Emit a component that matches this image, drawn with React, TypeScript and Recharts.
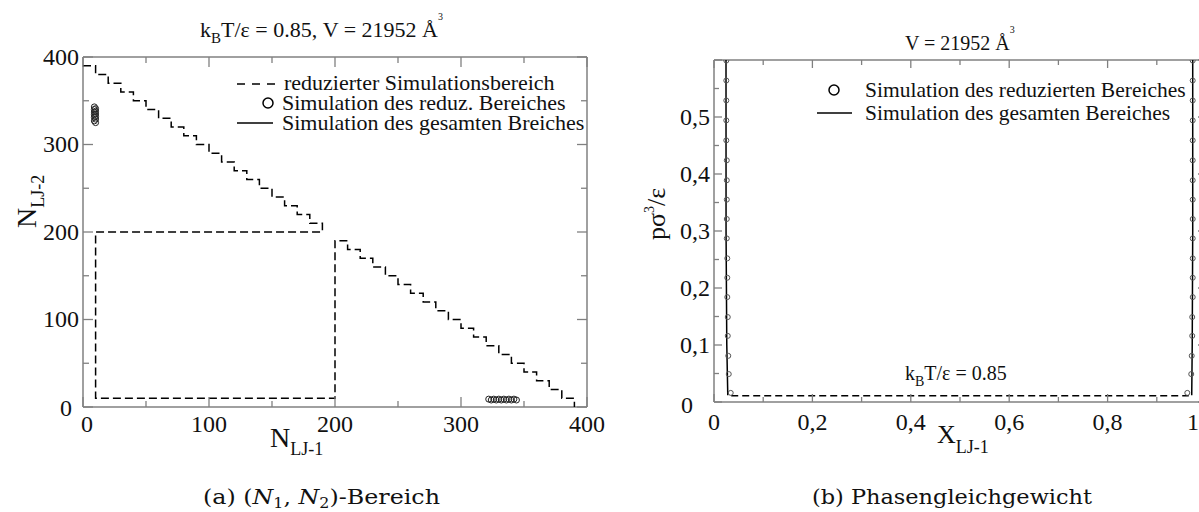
import React from 'react';
import { ComposedChart, Scatter, XAxis, YAxis } from 'recharts';

const SERIF = '"Liberation Serif", "Times New Roman", serif';
const CAPTION = '"DejaVu Serif", serif';
const FRAME = '#808080';

// (a) simulated (N1, N2) range, dashed outline
const upperEdgesN1 = [0, 10, 20, 30, 40, 50, 60, 70, 80, 90, 100, 110, 120, 130, 140, 150, 160, 170, 180, 190];
const upperLevelsN2 = [390, 380, 370, 360, 350, 340, 330, 320, 310, 300, 290, 280, 270, 260, 250, 240, 230, 220, 210];
const boxCornersN1 = [190, 10, 10, 200];
const boxCornersN2 = [200, 200, 10, 10];
const lowerEdgesN1 = [200, 210, 220, 230, 240, 250, 260, 270, 280, 290, 300, 310, 320, 330, 340, 350, 360, 370, 380, 390];
const lowerLevelsN2 = [190, 180, 170, 160, 150, 140, 130, 120, 110, 100, 90, 80, 70, 60, 50, 40, 30, 20, 10];
const rangeEndN1 = [390];
const rangeEndN2 = [0];

// (a) peaks of the reduced simulation
const peakAN1 = [9, 10, 9, 10, 9, 10, 9, 10, 9, 10, 9, 10];
const peakAN2 = [343, 341, 340, 338, 337, 335, 334, 332, 331, 329, 327, 325];
const peakBN1 = [322, 324, 326, 328, 330, 332, 334, 336, 338, 340, 342, 344];
const peakBN2 = [9, 8, 9, 8, 9, 8, 9, 8, 9, 8, 9, 8];

const ticksN = [0, 50, 100, 150, 200, 250, 300, 350, 400];
const majorN = [0, 100, 200, 300, 400];

// (b) phase equilibrium
const pressure = [0.599, 0.564, 0.529, 0.494, 0.459, 0.424, 0.389, 0.355, 0.321, 0.287, 0.252, 0.218, 0.184, 0.149, 0.116, 0.081, 0.049, 0.016];
const xReducedLeft = [0.025, 0.025, 0.025, 0.025, 0.025, 0.026, 0.026, 0.026, 0.026, 0.026, 0.027, 0.027, 0.027, 0.028, 0.028, 0.029, 0.03, 0.034];
const xReducedRight = [0.973, 0.973, 0.973, 0.973, 0.973, 0.973, 0.973, 0.973, 0.973, 0.973, 0.973, 0.973, 0.973, 0.972, 0.972, 0.971, 0.97, 0.962];
const fullLeftX = [0.0244, 0.0245, 0.026, 0.028];
const fullLeftP = [0.6, 0.3, 0.1, 0.012];
const fullRightX = [0.973, 0.973, 0.972, 0.971];
const fullRightP = [0.6, 0.3, 0.1, 0.012];
const vaporX = [0.035, 0.965];
const vaporP = [0.011, 0.011];

const ticksX = [0, 0.1, 0.2, 0.3, 0.4, 0.5, 0.6, 0.7, 0.8, 0.9, 1];
const majorX = [0, 0.2, 0.4, 0.6, 0.8, 1];
const ticksP = [0, 0.05, 0.1, 0.15, 0.2, 0.25, 0.3, 0.35, 0.4, 0.45, 0.5, 0.55, 0.6];
const majorP = [0, 0.1, 0.2, 0.3, 0.4, 0.5, 0.6];
const labelP = [0, 0.1, 0.2, 0.3, 0.4, 0.5];

type Pt = { x: number; y: number };
const zip = (xs: number[], ys: number[]): Pt[] => xs.map((x, i) => ({ x, y: ys[i] }));
const stairs = (edges: number[], levels: number[]): Pt[] =>
  levels.flatMap((lv, i) => [{ x: edges[i], y: lv }, { x: edges[i + 1], y: lv }]);

const rangePath: Pt[] = [
  ...stairs(upperEdgesN1, upperLevelsN2),
  ...zip(boxCornersN1, boxCornersN2),
  ...stairs(lowerEdgesN1, lowerLevelsN2),
  ...zip(rangeEndN1, rangeEndN2),
];
const peaks: Pt[] = [...zip(peakAN1, peakAN2), ...zip(peakBN1, peakBN2)];
const reducedPts: Pt[] = [...zip(xReducedLeft, pressure), ...zip(xReducedRight, pressure)];

type TickCfg = {
  side: 'left' | 'right' | 'top' | 'bottom';
  majors: number[];
  labels?: number[];
  majorLen: number;
  minorLen: number;
  fontSize?: number;
  gap?: number;
  comma?: boolean;
  shift?: Record<string, [number, number]>;
};

const tickRenderer = (cfg: TickCfg) => (props: any) => {
  const { x, y, payload } = props;
  const v: number = payload.value;
  const len = cfg.majors.includes(v) ? cfg.majorLen : cfg.minorLen;
  let line;
  if (cfg.side === 'bottom') line = <line x1={x} y1={y} x2={x} y2={y - len} />;
  else if (cfg.side === 'top') line = <line x1={x} y1={y} x2={x} y2={y + len} />;
  else if (cfg.side === 'left') line = <line x1={x} y1={y} x2={x + len} y2={y} />;
  else line = <line x1={x} y1={y} x2={x - len} y2={y} />;

  let label = null;
  if (cfg.labels && cfg.labels.includes(v)) {
    const fs = cfg.fontSize || 24;
    const [dx, dy] = (cfg.shift && cfg.shift[String(v)]) || [0, 0];
    const txt = cfg.comma ? String(v).replace('.', ',') : String(v);
    if (cfg.side === 'bottom') {
      label = (
        <text x={x + dx} y={y + (cfg.gap || 0) + dy} textAnchor="middle" fontSize={fs} fontFamily={SERIF} fill="#111">
          {txt}
        </text>
      );
    } else {
      label = (
        <text x={x - (cfg.gap || 0) + dx} y={y + fs * 0.33 + dy} textAnchor="end" fontSize={fs} fontFamily={SERIF} fill="#111">
          {txt}
        </text>
      );
    }
  }
  return (
    <g>
      <g stroke={FRAME} strokeWidth={1.3}>{line}</g>
      {label}
    </g>
  );
};

const noDot = () => <g />;
const axisLine = { stroke: FRAME, strokeWidth: 1.5 };

function RangeChart() {
  return (
    <ComposedChart width={620} height={512} margin={{ top: 56, right: 32, bottom: 65, left: 0 }}>
      <XAxis xAxisId="b" type="number" dataKey="x" domain={[0, 400]} ticks={ticksN} interval={0} allowDataOverflow
        height={40} tickSize={0} tickMargin={0} tickLine={false} axisLine={axisLine}
        tick={tickRenderer({ side: 'bottom', majors: majorN, labels: majorN, majorLen: 10, minorLen: 6, gap: 25, shift: { '0': [4, 0] } })} />
      <XAxis xAxisId="t" orientation="top" type="number" dataKey="x" domain={[0, 400]} ticks={ticksN} interval={0} allowDataOverflow
        height={1} tickSize={0} tickMargin={0} tickLine={false} axisLine={axisLine}
        tick={tickRenderer({ side: 'top', majors: majorN, majorLen: 10, minorLen: 6 })} />
      <YAxis yAxisId="l" type="number" dataKey="y" domain={[0, 400]} ticks={ticksN} interval={0} allowDataOverflow
        width={83} tickSize={0} tickMargin={0} tickLine={false} axisLine={axisLine}
        tick={tickRenderer({ side: 'left', majors: majorN, labels: majorN, majorLen: 10, minorLen: 6, gap: 4, shift: { '0': [-7, 1] } })} />
      <YAxis yAxisId="r" orientation="right" type="number" dataKey="y" domain={[0, 400]} ticks={ticksN} interval={0} allowDataOverflow
        width={1} tickSize={0} tickMargin={0} tickLine={false} axisLine={axisLine}
        tick={tickRenderer({ side: 'right', majors: majorN, majorLen: 10, minorLen: 6 })} />
      <Scatter xAxisId="b" yAxisId="l" data={rangePath} isAnimationActive={false} line={{ stroke: '#000', strokeWidth: 1.5, strokeDasharray: '8 4' }} lineType="joint" shape={noDot} />
      <Scatter xAxisId="b" yAxisId="l" data={peaks} isAnimationActive={false}
        shape={(p: any) => <circle cx={p.cx} cy={p.cy} r={3} fill="none" stroke="#222" strokeWidth={1} />} />
    </ComposedChart>
  );
}

function PhaseChart() {
  return (
    <ComposedChart width={620} height={512} margin={{ top: 59, right: 33, bottom: 70, left: 0 }}>
      <XAxis xAxisId="b" type="number" dataKey="x" domain={[0, 1]} ticks={ticksX} interval={0} allowDataOverflow
        height={40} tickSize={0} tickMargin={0} tickLine={false} axisLine={axisLine}
        tick={tickRenderer({ side: 'bottom', majors: majorX, labels: majorX, majorLen: 8, minorLen: 5, gap: 28, comma: true, shift: { '1': [-13, 0] } })} />
      <XAxis xAxisId="t" orientation="top" type="number" dataKey="x" domain={[0, 1]} ticks={ticksX} interval={0} allowDataOverflow
        height={1} tickSize={0} tickMargin={0} tickLine={false} axisLine={axisLine}
        tick={tickRenderer({ side: 'top', majors: majorX, majorLen: 8, minorLen: 5 })} />
      <YAxis yAxisId="l" type="number" dataKey="y" domain={[0, 0.6]} ticks={ticksP} interval={0} allowDataOverflow
        width={94} tickSize={0} tickMargin={0} tickLine={false} axisLine={axisLine}
        tick={tickRenderer({ side: 'left', majors: majorP, labels: labelP, majorLen: 8, minorLen: 5, gap: 4, comma: true, shift: { '0': [-17, 3] } })} />
      <YAxis yAxisId="r" orientation="right" type="number" dataKey="y" domain={[0, 0.6]} ticks={ticksP} interval={0} allowDataOverflow
        width={1} tickSize={0} tickMargin={0} tickLine={false} axisLine={axisLine}
        tick={tickRenderer({ side: 'right', majors: majorP, majorLen: 8, minorLen: 5 })} />
      <Scatter xAxisId="b" yAxisId="l" data={zip(vaporX, vaporP)} isAnimationActive={false} line={{ stroke: '#000', strokeWidth: 1.5, strokeDasharray: '7 4' }} lineType="joint" shape={noDot} />
      <Scatter xAxisId="b" yAxisId="l" data={zip(fullLeftX, fullLeftP)} isAnimationActive={false} line={{ stroke: '#000', strokeWidth: 1.5 }} lineType="joint" shape={noDot} />
      <Scatter xAxisId="b" yAxisId="l" data={zip(fullRightX, fullRightP)} isAnimationActive={false} line={{ stroke: '#000', strokeWidth: 1.5 }} lineType="joint" shape={noDot} />
      <Scatter xAxisId="b" yAxisId="l" data={reducedPts} isAnimationActive={false}
        shape={(p: any) => <circle cx={p.cx} cy={p.cy} r={2.5} fill="none" stroke="#555" strokeWidth={1} />} />
    </ComposedChart>
  );
}

function Annotations() {
  return (
    <svg width={1199} height={512} style={{ position: 'absolute', left: 0, top: 0, pointerEvents: 'none' }} fontFamily={SERIF} fill="#111">
      {/* titles */}
      <text x={200} y={37} fontSize={22}>
        k<tspan fontSize={15} dy={6}>B</tspan><tspan dy={-6}>T/ε = 0.85, V = 21952 Å</tspan><tspan fontSize={10} dy={-17}>3</tspan>
      </text>
      <text x={905} y={50} fontSize={20}>
        V = 21952 Å<tspan fontSize={10} dy={-17}>3</tspan>
      </text>

      {/* legend (a) */}
      <line x1={237} y1={84} x2={275} y2={84} stroke="#000" strokeWidth={1.5} strokeDasharray="8 7" />
      <text x={284} y={90} fontSize={22}>reduzierter Simulationsbereich</text>
      <circle cx={268} cy={103} r={5} fill="none" stroke="#000" strokeWidth={1.5} />
      <text x={282} y={110} fontSize={22}>Simulation des reduz. Bereiches</text>
      <line x1={237} y1={123} x2={273} y2={123} stroke="#000" strokeWidth={1.5} />
      <text x={282} y={130} fontSize={22}>Simulation des gesamten Breiches</text>

      {/* legend (b) */}
      <circle cx={834} cy={90} r={5} fill="none" stroke="#000" strokeWidth={1.5} />
      <text x={865} y={97} fontSize={21.5}>Simulation des reduzierten Bereiches</text>
      <line x1={817} y1={113} x2={852} y2={113} stroke="#000" strokeWidth={1.5} />
      <text x={865} y={120} fontSize={21.5}>Simulation des gesamten Bereiches</text>

      <text x={905} y={380} fontSize={20}>
        k<tspan fontSize={14} dy={6}>B</tspan><tspan dy={-6}>T/ε = 0.85</tspan>
      </text>

      {/* axis titles */}
      <text x={270} y={447} fontSize={28}>
        N<tspan fontSize={18} dy={8}>LJ-1</tspan>
      </text>
      <text transform="translate(36,228) rotate(-90)" fontSize={28}>
        N<tspan fontSize={18} dy={8}>LJ-2</tspan>
      </text>
      <text x={937} y={443} fontSize={26}>
        X<tspan fontSize={18} dy={10}>LJ-1</tspan>
      </text>
      <text transform="translate(665,240) rotate(-90)" fontSize={26}>
        pσ<tspan fontSize={14} dy={-11}>3</tspan><tspan dy={11}>/ε</tspan>
      </text>

      {/* captions */}
      <text x={203} y={504} fontSize={21} fontFamily={CAPTION} textLength={237} lengthAdjust="spacingAndGlyphs">
        (a) (<tspan fontStyle="italic">N</tspan><tspan fontSize={14} dy={4}>1</tspan><tspan dy={-4}>, </tspan><tspan fontStyle="italic">N</tspan><tspan fontSize={14} dy={4}>2</tspan><tspan dy={-4}>)-Bereich</tspan>
      </text>
      <text x={812} y={504} fontSize={21} fontFamily={CAPTION} textLength={280} lengthAdjust="spacingAndGlyphs">
        (b) Phasengleichgewicht
      </text>
    </svg>
  );
}

export default function App() {
  return (
    <div style={{ position: 'absolute', left: 0, top: 0, width: 1199, height: 512, overflow: 'hidden', background: '#fff' }}>
      <div style={{ position: 'absolute', left: 0, top: 0 }}>
        <RangeChart />
      </div>
      <div style={{ position: 'absolute', left: 620, top: 0 }}>
        <PhaseChart />
      </div>
      <Annotations />
    </div>
  );
}
